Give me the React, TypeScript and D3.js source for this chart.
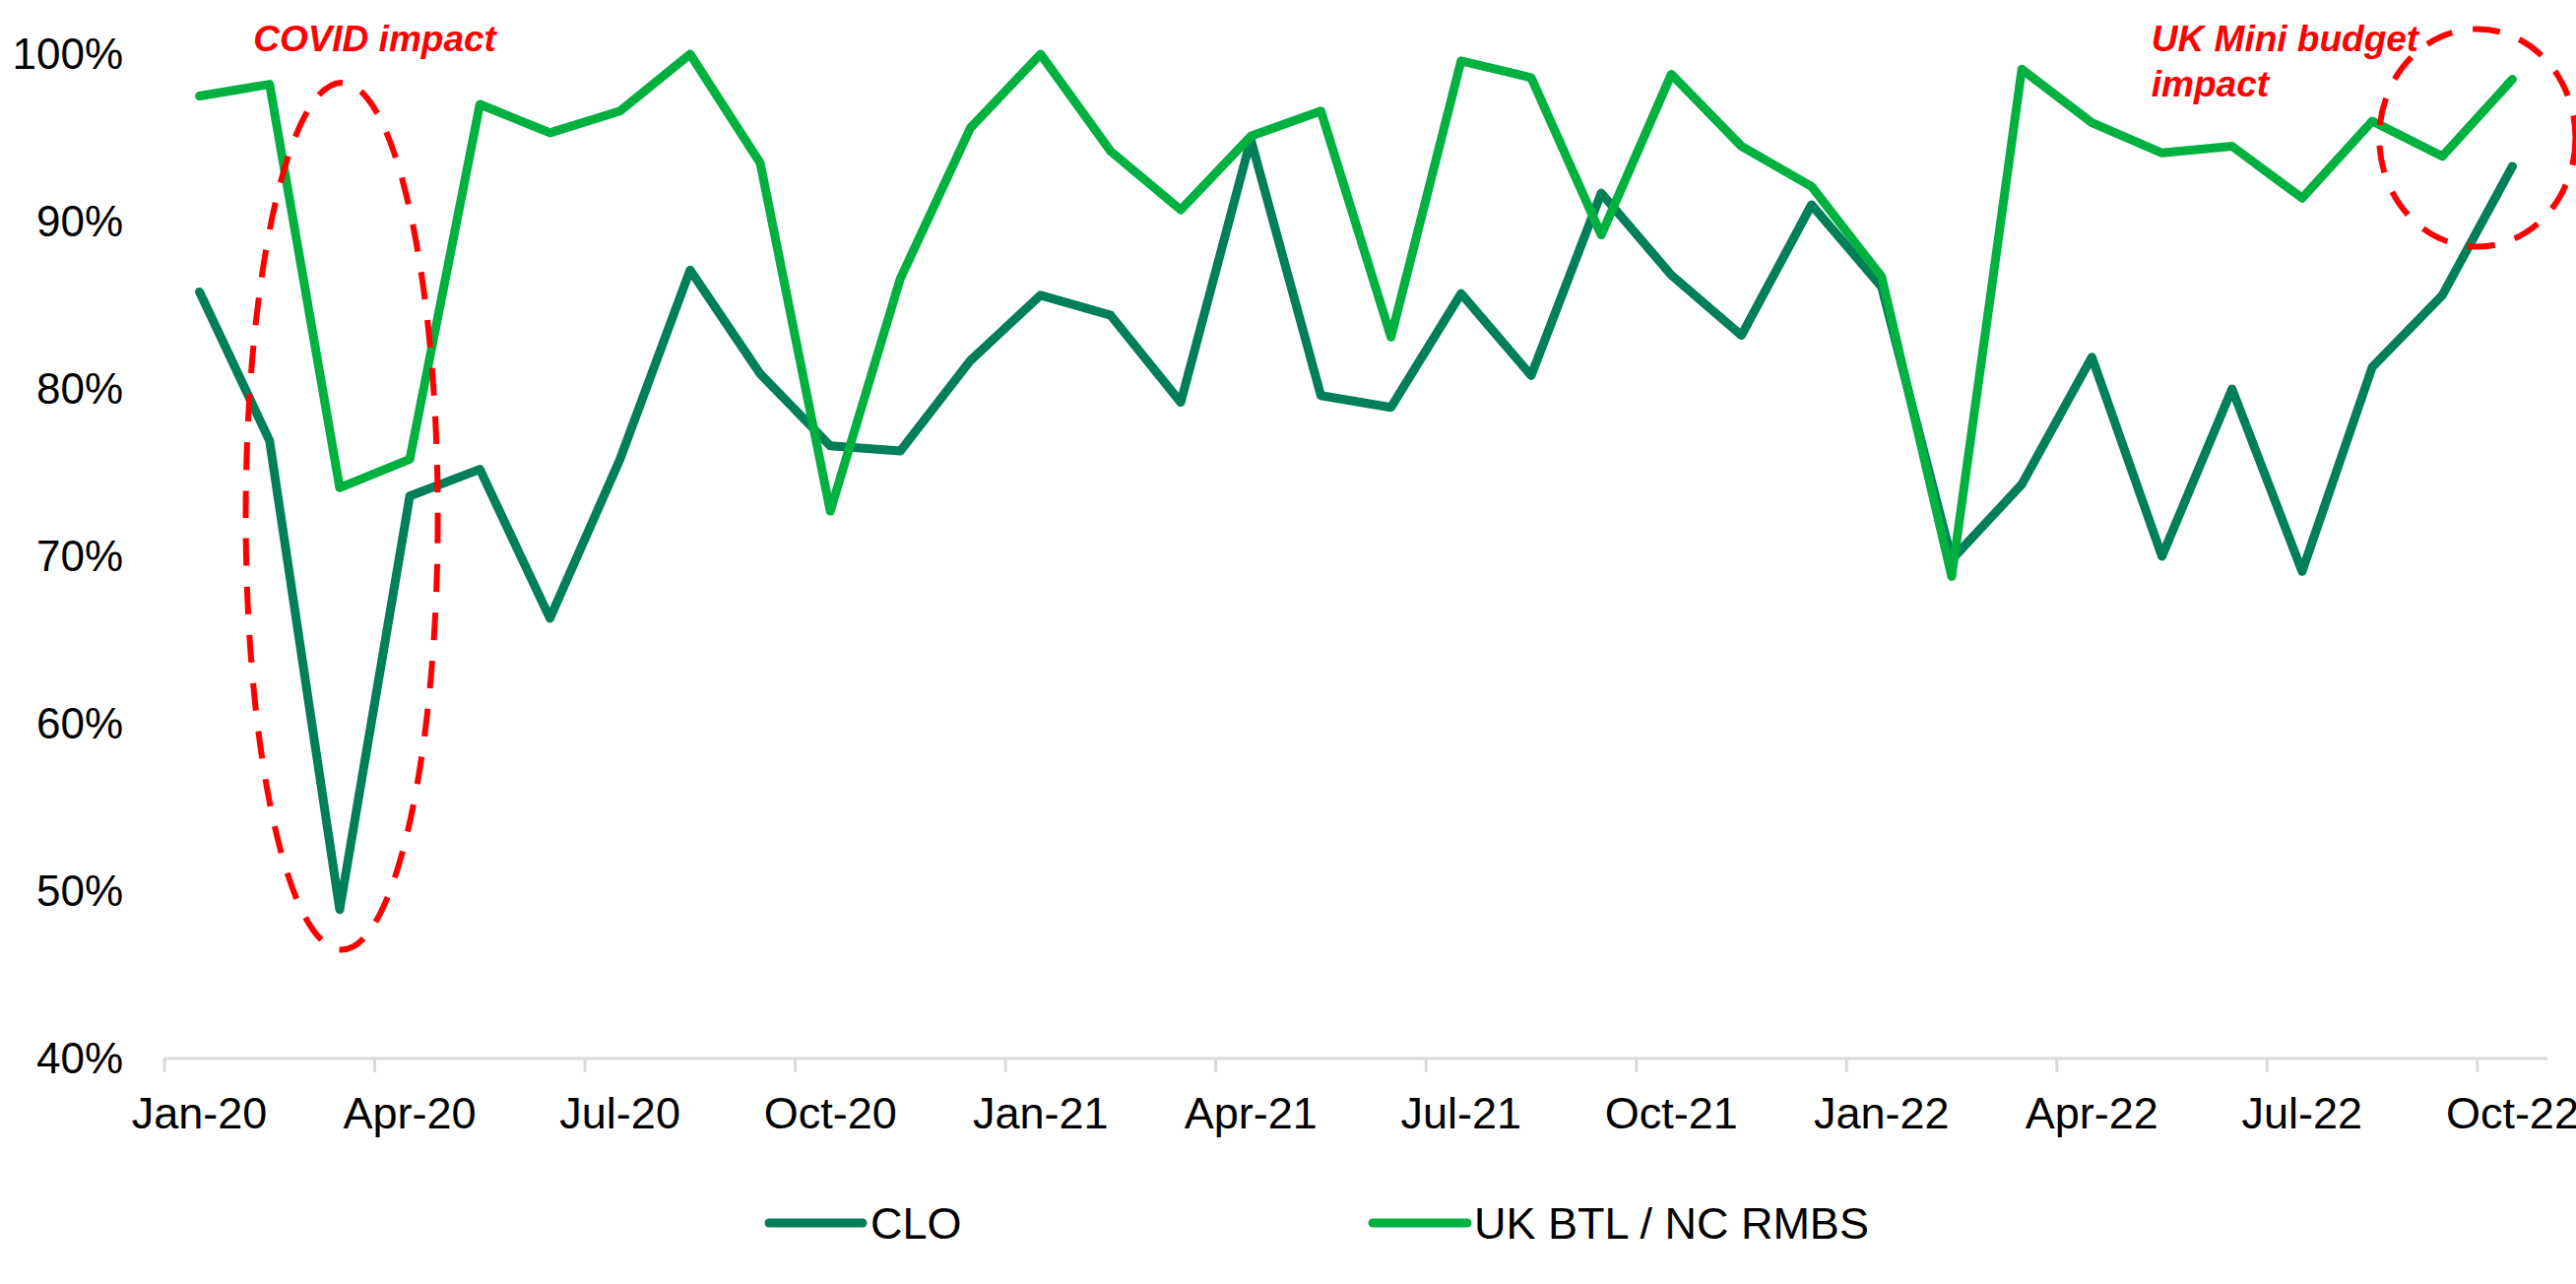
import React from "react";
import * as d3 from "d3";

const W = 2616;
const H = 1304;

const months = [
  "Jan-20", "Feb-20", "Mar-20", "Apr-20", "May-20", "Jun-20", "Jul-20", "Aug-20", "Sep-20", "Oct-20", "Nov-20", "Dec-20",
  "Jan-21", "Feb-21", "Mar-21", "Apr-21", "May-21", "Jun-21", "Jul-21", "Aug-21", "Sep-21", "Oct-21", "Nov-21", "Dec-21",
  "Jan-22", "Feb-22", "Mar-22", "Apr-22", "May-22", "Jun-22", "Jul-22", "Aug-22", "Sep-22", "Oct-22",
];

const clo = [
  85.8, 76.9, 48.9, 73.6, 75.2, 66.3, 75.8, 87.1, 80.9, 76.6, 76.3, 81.7,
  85.6, 84.4, 79.2, 94.9, 79.6, 78.9, 85.7, 80.8, 91.7, 86.8, 83.2, 91.0,
  86.1, 69.8, 74.3, 81.9, 70.0, 80.0, 69.1, 81.3, 85.6, 93.3,
];

const ukBtl = [
  97.5, 98.2, 74.1, 75.8, 97.0, 95.3, 96.6, 100, 93.5, 72.7, 86.6, 95.6,
  100, 94.2, 90.7, 95.1, 96.6, 83.1, 99.6, 98.6, 89.2, 98.8, 94.5, 92.1,
  86.7, 68.8, 99.1, 95.9, 94.1, 94.5, 91.4, 96.0, 93.9, 98.5,
];

const yTicks = [40, 50, 60, 70, 80, 90, 100];
const xTickEvery = 3;

const series = [
  { name: "CLO", values: clo, color: "#007F58" },
  { name: "UK BTL / NC RMBS", values: ukBtl, color: "#00B140" },
];

const FONT = "'Liberation Sans', Arial, sans-serif";

export default function App() {
  const x = d3.scaleLinear().domain([0, months.length]).range([167, 2587]);
  const y = d3.scaleLinear().domain([40, 100]).range([1075, 55]);

  const line = d3
    .line<number>()
    .x((_, i) => x(i + 0.5))
    .y((d) => y(d));

  const tickIdx = d3.range(0, months.length, xTickEvery);

  // annotation ellipses, in data units (month index, percent)
  const covid = { cx: 2.53, cy: 72.4, rx: 1.37, ry: 25.9 };
  const mini = { cx: 33.0, cy: 95.0, rx: 1.4, ry: 6.5 };
  const ell = (e: typeof covid) => ({
    cx: x(e.cx),
    cy: y(e.cy),
    rx: x(e.rx) - x(0),
    ry: y(100 - e.ry) - y(100),
  });
  const e1 = ell(covid);
  const e2 = ell(mini);

  const legend = [
    { x0: 781, x1: 876, tx: 884 },
    { x0: 1394, x1: 1490, tx: 1497 },
  ];

  return (
    <svg
      width={W}
      height={H}
      style={{ position: "absolute", left: 0, top: 0, background: "#fff" }}
      fontFamily={FONT}
    >
      <rect width={W} height={H} fill="#fff" />
      {/* y axis labels */}
      <g fontSize={44} textAnchor="end" fill="#000">
        {yTicks.map((t) => (
          <text key={t} x={125} y={y(t)} dy="0.35em">
            {t}%
          </text>
        ))}
      </g>
      {/* x axis */}
      <line x1={x(0)} x2={x(months.length)} y1={y(40)} y2={y(40)} stroke="#d9d9d9" strokeWidth={3} />
      {tickIdx.map((i) => (
        <line key={i} x1={x(i)} x2={x(i)} y1={y(40)} y2={y(40) + 14} stroke="#d9d9d9" strokeWidth={3} />
      ))}
      <g fontSize={45} textAnchor="middle" fill="#000">
        {tickIdx.map((i) => (
          <text key={i} x={x(i + 0.5)} y={1146}>
            {months[i]}
          </text>
        ))}
      </g>
      {/* lines */}
      {series.map((s) => (
        <path
          key={s.name}
          d={line(s.values) || ""}
          fill="none"
          stroke={s.color}
          strokeWidth={9}
          strokeLinejoin="round"
          strokeLinecap="round"
        />
      ))}
      {/* annotations */}
      <ellipse {...e1} fill="none" stroke="#ff0000" strokeWidth={6} strokeDasharray="28 21" />
      <ellipse {...e2} fill="none" stroke="#ff0000" strokeWidth={6} strokeDasharray="28 21" />
      <g fill="#ff0000" fontWeight="bold" fontStyle="italic" fontSize={37}>
        <text x={x(3.0)} y={y(100.18)} textAnchor="middle">
          COVID impact
        </text>
        <text x={x(28.35)} y={y(100.18)}>UK Mini budget</text>
        <text x={x(28.35)} y={y(97.5)}>impact</text>
      </g>
      {/* legend */}
      {series.map((s, i) => (
        <g key={s.name}>
          <line
            x1={legend[i].x0}
            x2={legend[i].x1}
            y1={1242}
            y2={1242}
            stroke={s.color}
            strokeWidth={9}
            strokeLinecap="round"
          />
          <text x={legend[i].tx} y={1242} dy="0.35em" fontSize={45} fill="#000">
            {s.name}
          </text>
        </g>
      ))}
    </svg>
  );
}
